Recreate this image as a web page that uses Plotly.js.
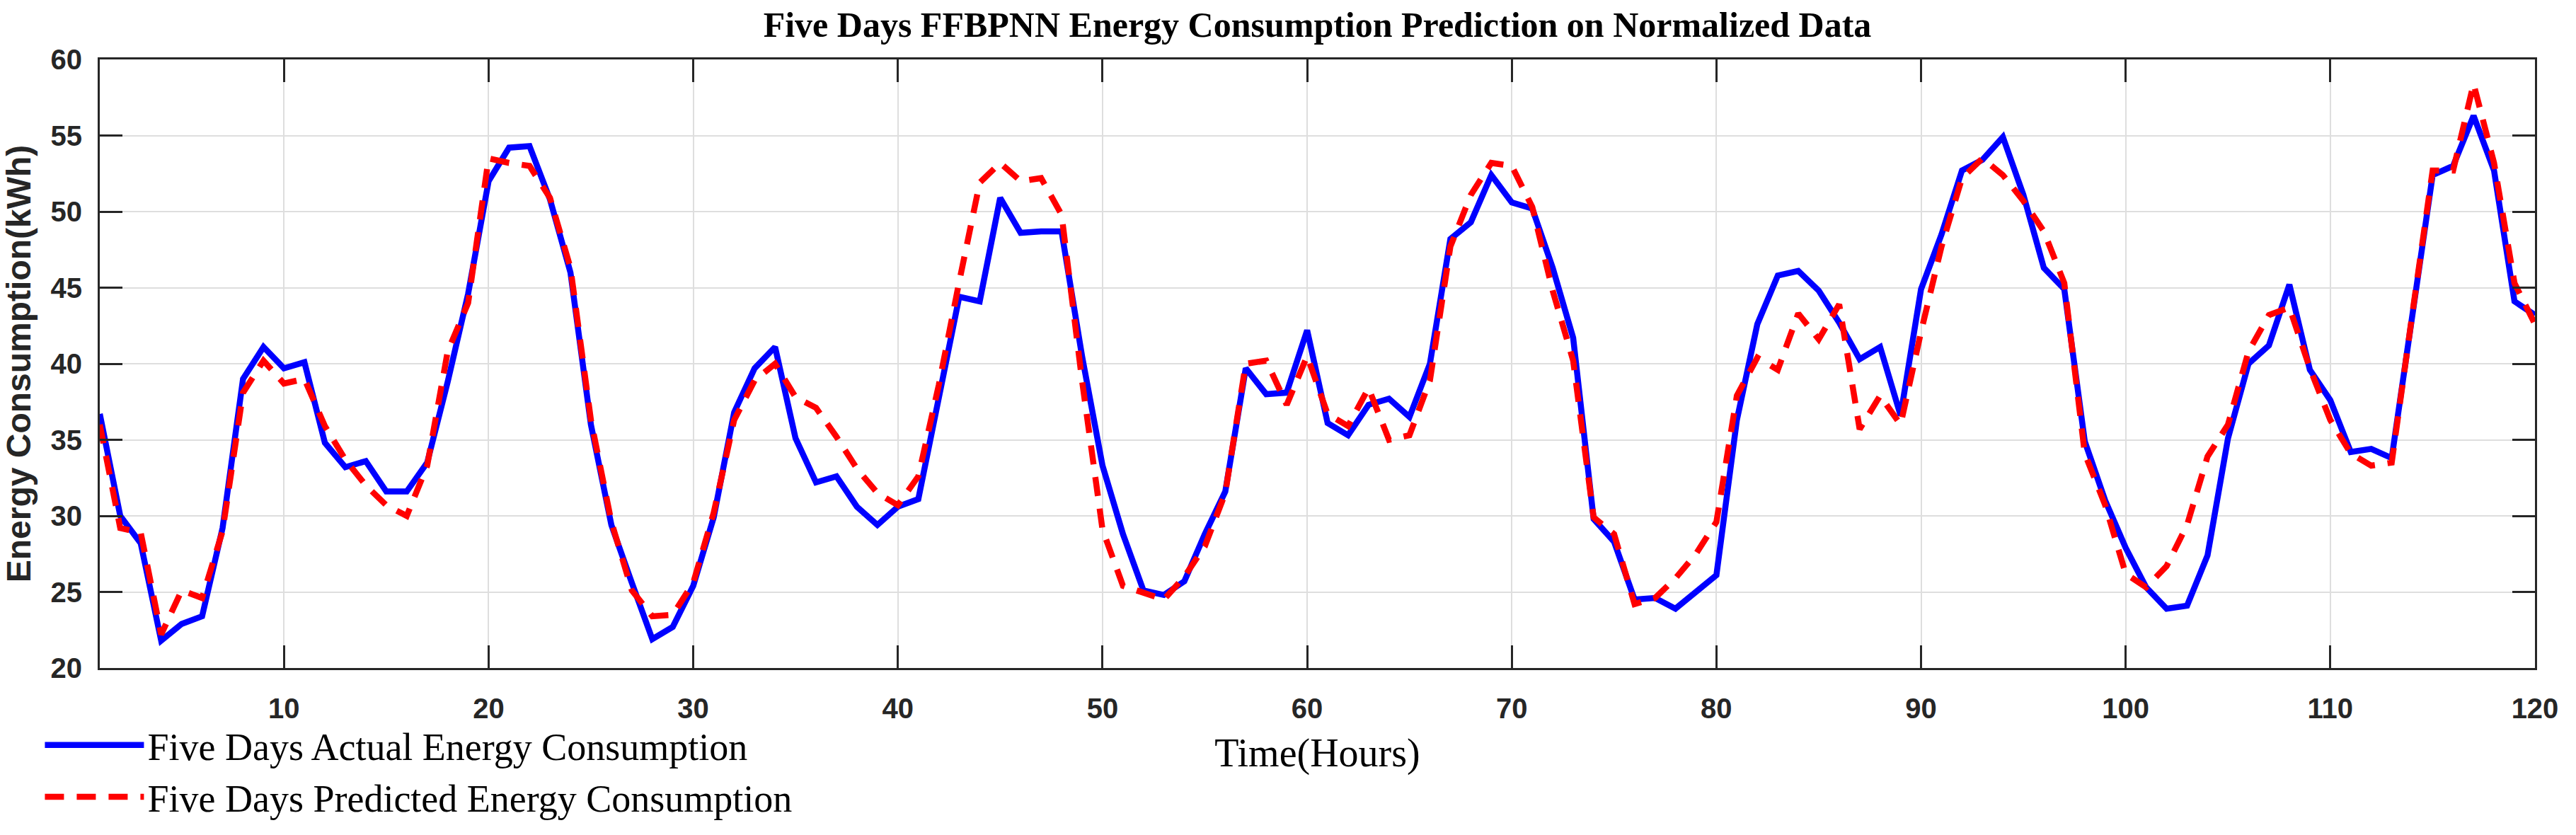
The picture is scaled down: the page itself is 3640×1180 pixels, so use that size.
<!DOCTYPE html>
<html>
<head>
<meta charset="utf-8">
<script src="https://cdn.plot.ly/plotly-3.0.1.min.js"></script>
<style>
  html, body { margin: 0; padding: 0; background: #ffffff; }
  #chart { width: 3640px; height: 1180px; }
</style>
</head>
<body>
<div id="chart"></div>
<script>
// Hours 1..120
const hours = Array.from({length: 120}, (_, i) => i + 1);

// Actual energy consumption (kWh)
const actual = [
  36.7, 30.0, 28.2, 21.8, 22.9, 23.4, 29.2, 39.0, 41.1, 39.7,
  40.1, 34.8, 33.2, 33.6, 31.6, 31.6, 33.5, 38.8, 44.6, 52.0,
  54.2, 54.3, 50.8, 46.0, 36.0, 29.4, 25.6, 21.9, 22.7, 25.4,
  29.9, 36.8, 39.7, 41.1, 35.1, 32.2, 32.6, 30.6, 29.4, 30.6,
  31.1, 37.9, 44.4, 44.1, 50.9, 48.6, 48.7, 48.7, 40.5, 33.3,
  28.8, 25.1, 24.8, 25.7, 28.8, 31.6, 39.7, 38.0, 38.1, 42.2,
  36.1, 35.3, 37.3, 37.7, 36.5, 40.0, 48.2, 49.3, 52.4, 50.6,
  50.2, 46.3, 41.7, 29.8, 28.3, 24.5, 24.6, 23.9, 25.0, 26.1,
  36.3, 42.6, 45.8, 46.1, 44.8, 42.7, 40.3, 41.1, 36.6, 44.9,
  48.5, 52.7, 53.4, 54.9, 51.1, 46.3, 44.9, 34.9, 31.0, 27.9,
  25.3, 23.9, 24.1, 27.4, 35.1, 40.0, 41.2, 45.2, 39.6, 37.6,
  34.2, 34.4, 33.8, 43.2, 52.4, 53.0, 56.3, 52.7, 44.1, 43.2
];

// Predicted energy consumption (kWh)
const predicted = [
  36.0, 29.2, 28.9, 22.2, 25.1, 24.6, 29.0, 38.1, 40.2, 38.7,
  39.0, 35.9, 33.7, 32.0, 30.7, 30.0, 33.3, 40.8, 44.0, 53.5,
  53.2, 53.0, 50.9, 46.3, 36.3, 29.6, 25.1, 23.4, 23.5, 25.6,
  30.2, 36.3, 38.9, 40.0, 37.8, 37.1, 35.2, 33.1, 31.5, 30.7,
  32.6, 38.6, 45.4, 51.9, 53.2, 52.0, 52.2, 49.8, 38.9, 29.1,
  25.4, 25.0, 24.5, 26.0, 28.0, 31.5, 40.0, 40.2, 37.3, 40.5,
  36.7, 35.9, 38.4, 35.0, 35.3, 38.9, 47.7, 51.1, 53.2, 53.0,
  50.3, 44.8, 40.2, 29.9, 28.8, 24.2, 24.6, 25.9, 27.5, 29.6,
  37.9, 40.4, 39.6, 43.3, 41.6, 43.9, 35.7, 37.9, 36.0, 42.1,
  47.7, 52.2, 53.5, 52.4, 50.7, 48.7, 45.3, 34.1, 30.7, 26.2,
  25.3, 26.7, 29.4, 33.9, 36.0, 40.8, 43.2, 43.7, 39.7, 36.3,
  34.1, 33.3, 33.5, 43.2, 52.7, 52.7, 58.4, 53.2, 45.3, 42.6
];

const seriesNames = [
  'Five Days Actual Energy Consumption',
  'Five Days Predicted Energy Consumption'
];
const xTickVals = [10, 20, 30, 40, 50, 60, 70, 80, 90, 100, 110, 120];
const yTickVals = [20, 25, 30, 35, 40, 45, 50, 55, 60];

const serif = '"Liberation Serif", "DejaVu Serif", serif';
const sans = '"Liberation Sans", Arial, sans-serif';
const axisColor = '#262626';

const traces = [
  {
    x: hours, y: actual, name: seriesNames[0], type: 'scatter', mode: 'lines',
    line: {color: '#0000ff', width: 8.5}
  },
  {
    x: hours, y: predicted, name: seriesNames[1], type: 'scatter', mode: 'lines',
    line: {color: '#ff0000', width: 8.5, dash: '27px,18px'}
  }
];

const axisCommon = {
  showline: true, linecolor: axisColor, linewidth: 3, mirror: 'ticks',
  ticks: 'inside', ticklen: 32, tickwidth: 3, tickcolor: axisColor,
  showgrid: true, gridcolor: '#dedede', gridwidth: 2,
  zeroline: false,
  tickfont: {family: sans, size: 40, color: axisColor, weight: 'bold'}
};

const layout = {
  width: 3640, height: 1180,
  paper_bgcolor: '#ffffff', plot_bgcolor: '#ffffff',
  margin: {l: 141, r: 58, t: 84, b: 219},
  showlegend: true,
  title: {
    text: '<b>Five Days FFBPNN Energy Consumption Prediction on Normalized Data</b>',
    font: {family: serif, size: 50, color: '#000000'},
    x: 0.5, xref: 'paper', xanchor: 'center',
    y: 0.971, yref: 'container', yanchor: 'middle'
  },
  xaxis: Object.assign({}, axisCommon, {
    range: [1, 120], tickvals: xTickVals, ticktext: xTickVals.map(String),
    ticklabelstandoff: 20,
    title: {text: 'Time(Hours)', font: {family: serif, size: 56, color: '#000000'}, standoff: 22}
  }),
  yaxis: Object.assign({}, axisCommon, {
    range: [20, 60], tickvals: yTickVals, ticktext: yTickVals.map(String),
    ticklabelstandoff: 14,
    title: {text: '<b>Energy Consumption(kWh)</b>', font: {family: sans, size: 48, color: axisColor}, standoff: 14}
  }),
  legend: {
    x: -0.024, xanchor: 'left', y: -0.078, yanchor: 'top',
    bgcolor: 'rgba(0,0,0,0)', borderwidth: 0,
    font: {family: serif, size: 54, color: '#000000'},
    itemwidth: 140, tracegroupgap: 0
  }
};

Plotly.newPlot('chart', traces, layout, {staticPlot: true, displayModeBar: false});
</script>
</body>
</html>
